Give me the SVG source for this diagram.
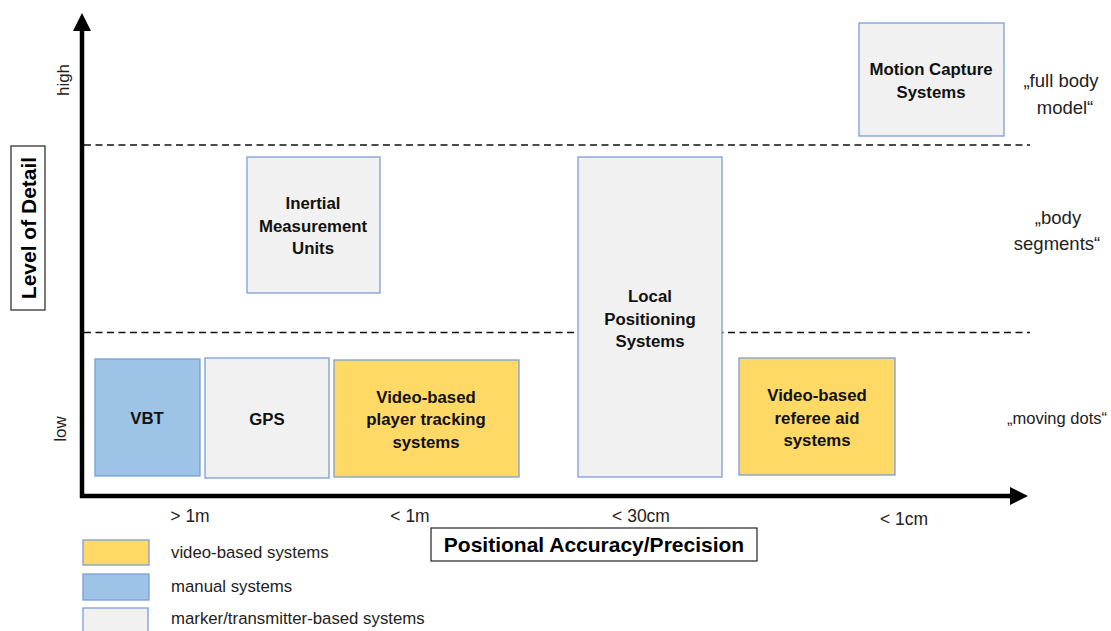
<svg xmlns="http://www.w3.org/2000/svg" width="1111" height="631" viewBox="0 0 1111 631">
  <style>
    .box { stroke: #7b9dd9; stroke-width: 1.3; }
    .marker { fill: #f1f1f1; }
    .video { fill: #ffd966; }
    .manual { fill: #9dc3e6; }
    .lbl { font-family: "Liberation Sans", Arial, sans-serif; font-weight: bold; font-size: 16.8px; fill: #111; text-anchor: middle; }
    .note { font-family: "Liberation Sans", Arial, sans-serif; font-size: 18.5px; fill: #222; text-anchor: middle; }
    .axlbl { font-family: "Liberation Sans", Arial, sans-serif; font-size: 17px; fill: #222; text-anchor: middle; }
    .tick { font-family: "Liberation Sans", Arial, sans-serif; font-size: 17.5px; fill: #222; text-anchor: middle; }
    .leg { font-family: "Liberation Sans", Arial, sans-serif; font-size: 16.8px; fill: #222; }
    .title { font-family: "Liberation Sans", Arial, sans-serif; font-weight: bold; font-size: 21px; fill: #000; text-anchor: middle; }
    .dash { stroke: #111; stroke-width: 1.5; stroke-dasharray: 7 4.5; fill: none; }
  </style>
  <rect width="1111" height="631" fill="#ffffff"/>

  <!-- axes and level separators -->
  <g id="connectors">
    <line class="dash" x1="84" y1="145" x2="1030" y2="145"/>
    <line class="dash" x1="84" y1="332.5" x2="1030" y2="332.5"/>
    <line x1="82" y1="498" x2="82" y2="28" stroke="#000" stroke-width="4.5"/>
    <polygon points="73,31 82,13 91,31" fill="#000"/>
    <line x1="80" y1="496" x2="1012" y2="496" stroke="#000" stroke-width="4.5"/>
    <polygon points="1010,487 1028,496 1010,505" fill="#000"/>
  </g>

  <!-- axis titles and scale labels -->
  <g id="y-axis-title">
    <rect x="11" y="146" width="34" height="164" fill="#fff" stroke="#222" stroke-width="1.2"/>
    <text class="title" transform="translate(35.5,228) rotate(-90)">Level of Detail</text>
  </g>
  <text class="axlbl" transform="translate(69,80) rotate(-90)">high</text>
  <text class="axlbl" transform="translate(66,429) rotate(-90)">low</text>

  <g id="x-axis-title">
    <rect x="431" y="528" width="326" height="33" fill="#fff" stroke="#222" stroke-width="1.2"/>
    <text class="title" x="594" y="552">Positional Accuracy/Precision</text>
  </g>
  <text class="tick" x="190" y="522">&gt; 1m</text>
  <text class="tick" x="410" y="522">&lt; 1m</text>
  <text class="tick" x="641" y="522">&lt; 30cm</text>
  <text class="tick" x="904" y="525">&lt; 1cm</text>

  <text class="note" x="1061" y="87">„full body</text>
  <text class="note" x="1065" y="114">model“</text>
  <text class="note" x="1058" y="224">„body</text>
  <text class="note" x="1057" y="250">segments“</text>
  <text class="note" x="1057" y="424" style="font-size:16.5px">„moving dots“</text>

  <!-- systems -->
  <g id="motion-capture">
    <rect class="box marker" x="859" y="23" width="145" height="113"/>
    <text class="lbl" x="931" y="75">Motion Capture</text>
    <text class="lbl" x="931" y="98">Systems</text>
  </g>
  <g id="imu">
    <rect class="box marker" x="247" y="157" width="133" height="136"/>
    <text class="lbl" x="313" y="209">Inertial</text>
    <text class="lbl" x="313" y="232">Measurement</text>
    <text class="lbl" x="313" y="254">Units</text>
  </g>
  <g id="lps">
    <rect class="box marker" x="578" y="157" width="144" height="320"/>
    <text class="lbl" x="650" y="302">Local</text>
    <text class="lbl" x="650" y="325">Positioning</text>
    <text class="lbl" x="650" y="347">Systems</text>
  </g>
  <g id="vbt">
    <rect class="box manual" x="95" y="359" width="105" height="117"/>
    <text class="lbl" x="147" y="424">VBT</text>
  </g>
  <g id="gps">
    <rect class="box marker" x="205" y="358" width="124" height="120"/>
    <text class="lbl" x="267" y="425">GPS</text>
  </g>
  <g id="player-tracking">
    <rect class="box video" x="334" y="360" width="185" height="117"/>
    <text class="lbl" x="426" y="403">Video-based</text>
    <text class="lbl" x="426" y="425">player tracking</text>
    <text class="lbl" x="426" y="448">systems</text>
  </g>
  <g id="referee-aid">
    <rect class="box video" x="739" y="358" width="156" height="117"/>
    <text class="lbl" x="817" y="401">Video-based</text>
    <text class="lbl" x="817" y="424">referee aid</text>
    <text class="lbl" x="817" y="446">systems</text>
  </g>

  <!-- legend -->
  <g id="legend">
    <rect class="box video" x="83" y="540" width="66" height="25"/>
    <text class="leg" x="171" y="558">video-based systems</text>
    <rect class="box manual" x="83" y="574" width="66" height="26"/>
    <text class="leg" x="171" y="592">manual systems</text>
    <rect class="box marker" x="83" y="608" width="65" height="30"/>
    <text class="leg" x="171" y="624">marker/transmitter-based systems</text>
  </g>
</svg>
